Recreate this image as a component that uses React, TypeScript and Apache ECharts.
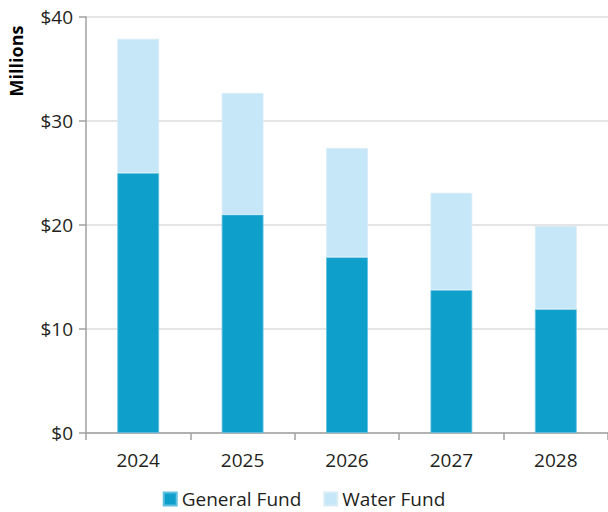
import React, { useEffect, useRef } from "react";
import * as echarts from "echarts";

const years = ["2024", "2025", "2026", "2027", "2028"];
const generalFund = [25.0, 21.0, 16.9, 13.75, 11.9];
const waterFund = [12.9, 11.7, 10.5, 9.35, 8.0];
const yTicks = [0, 10, 20, 30, 40];

const FONT = "'Open Sans', sans-serif";
const TEXT = "#231f20";

export default function App() {
  const ref = useRef<HTMLDivElement>(null);
  useEffect(() => {
    if (!ref.current) return;
    const chart = echarts.init(ref.current, null, { renderer: "svg" });
    chart.setOption({
      animation: false,
      grid: { left: 86, right: 0, top: 17, bottom: 79, containLabel: false },
      legend: {
        top: 489,
        left: "center",
        padding: 0,
        itemWidth: 13,
        itemHeight: 13,
        itemGap: 22,
        icon: "rect",
        textStyle: { fontFamily: FONT, fontSize: 19, lineHeight: 20, color: TEXT },
        data: ["General Fund", "Water Fund"],
      },
      graphic: [
        {
          type: "text",
          x: 7,
          y: 61,
          rotation: Math.PI / 2,
          style: {
            text: "Millions",
            font: `bold 18px ${FONT}`,
            fill: "#000",
            align: "center",
            verticalAlign: "top",
          },
        },
      ],
      xAxis: {
        type: "category",
        data: years,
        axisLine: { lineStyle: { color: "#a0a0a0", width: 1.5 } },
        axisTick: { show: true, length: 7, lineStyle: { color: "#a0a0a0", width: 1.5 } },
        axisLabel: { fontFamily: FONT, fontSize: 19, color: TEXT, margin: 17 },
      },
      yAxis: {
        type: "value",
        min: yTicks[0],
        max: yTicks[yTicks.length - 1],
        interval: 10,
        axisLine: { show: true, lineStyle: { color: "#a0a0a0", width: 1.5 } },
        axisTick: { show: true, length: 7, lineStyle: { color: "#a0a0a0", width: 1.5 } },
        splitLine: { lineStyle: { color: "#dcdcdc", width: 1.5 } },
        axisLabel: {
          fontFamily: FONT,
          fontSize: 19,
          color: TEXT,
          margin: 13,
          formatter: (v: number) => "$" + v,
        },
      },
      series: [
        {
          name: "General Fund",
          type: "bar",
          stack: "t",
          data: generalFund,
          barWidth: "40%",
          itemStyle: { color: "#0f9fcb", borderColor: "#5fc0e0", borderWidth: 0.8 },
        },
        {
          name: "Water Fund",
          type: "bar",
          stack: "t",
          data: waterFund,
          barWidth: "40%",
          itemStyle: { color: "#c5e7f7", borderColor: "#d8ecf6", borderWidth: 0.8 },
        },
      ],
    });
    return () => chart.dispose();
  }, []);
  return <div ref={ref} style={{ width: 608, height: 512, position: "absolute", left: 0, top: 0 }} />;
}
